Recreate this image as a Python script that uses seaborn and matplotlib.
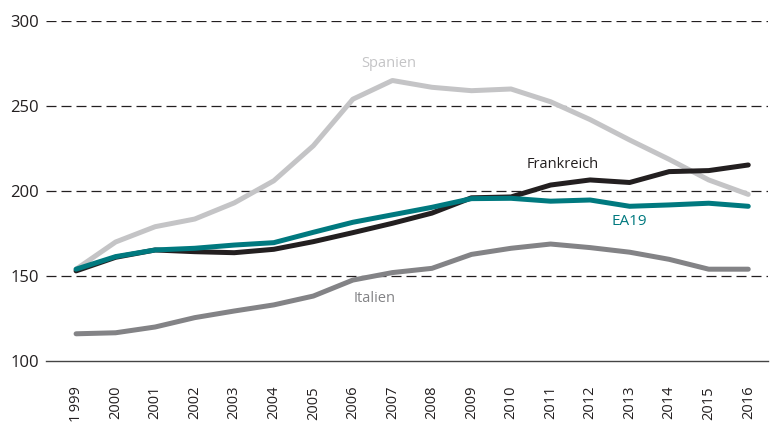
import pandas as pd
import numpy as np
import matplotlib
matplotlib.use("Agg")
import matplotlib.pyplot as plt
import seaborn as sns

################################################
#                 Data
################################################
years = list(range(1999, 2017))
year_labels = ["1\u2009999"] + [str(y) for y in years[1:]]

italien = [116, 116.6, 120, 125.5, 129.4, 133, 138.2, 147.6, 152, 154.5,
           162.7, 166.3, 168.8, 166.7, 164, 159.8, 154, 154]
spanien = [154, 170, 179, 183.5, 193, 206, 226.6, 254, 265, 261,
           259, 260, 252.5, 242, 230, 218.6, 206.5, 198]
frankreich = [153, 161, 165.3, 164.3, 163.7, 165.7, 170.2, 175.5, 181, 187,
              196, 196.5, 203.5, 206.5, 205, 211.4, 212, 215.3]
ea19 = [154, 161.4, 165.3, 166.3, 168.2, 169.6, 175.7, 181.6, 186, 190.4,
        195.5, 195.7, 194, 194.7, 191, 191.8, 192.8, 191]

series_names = ["Italien", "Spanien", "Frankreich", "EA19"]
series_colors = ["#838386", "#c4c4c6", "#231f20", "#00797f"]

df = pd.DataFrame({
    "Jahr": years * 4,
    "Wert": italien + spanien + frankreich + ea19,
    "Land": np.repeat(series_names, len(years)),
})

################################################
#                 Plot
################################################
sns.set_style("white")
plt.rcParams["font.family"] = ["Open Sans", "DejaVu Sans"]

fig = plt.figure(figsize=(7.75, 4.24), dpi=100)
ax = fig.add_axes([0.0594, 0.1486, 0.9316, 0.8019])

sns.lineplot(data=df, x="Jahr", y="Wert", hue="Land", hue_order=series_names,
             palette=series_colors, linewidth=3.6, legend=False, ax=ax,
             solid_capstyle="round", zorder=3)

ax.set_xlim(1998.24, 2016.5)
ax.set_ylim(100, 300)
ax.set_yticks([100, 150, 200, 250, 300])
ax.set_xticks(years)
ax.set_xticklabels(year_labels, rotation=90)
ax.set_xlabel("")
ax.set_ylabel("")

# dashed grid
for yv in [150, 200, 250, 300]:
    ax.axhline(yv, color="#231f20", lw=0.9, ls=(0, (8, 4)), zorder=1)

for s in ["top", "right", "left"]:
    ax.spines[s].set_visible(False)
ax.spines["bottom"].set_color("#444444")
ax.spines["bottom"].set_linewidth(1.0)

ax.tick_params(axis="x", length=15, width=0.9, color="#666666", pad=3,
               labelsize=10.5, labelcolor="#231f20", direction="out")
ax.tick_params(axis="y", length=0, pad=5, labelsize=12, labelcolor="#231f20")

# series labels
ax.text(2006.9, 275, "Spanien", color="#c4c4c6", fontsize=10.5, ha="center", va="center")
ax.text(2011.3, 215.3, "Frankreich", color="#231f20", fontsize=10.5, ha="center", va="center")
ax.text(2013.0, 182, "EA19", color="#00797f", fontsize=11, ha="center", va="center")
ax.text(2006.55, 137, "Italien", color="#838386", fontsize=10.5, ha="center", va="center")

plt.savefig("out.png", dpi=100)
plt.close()
